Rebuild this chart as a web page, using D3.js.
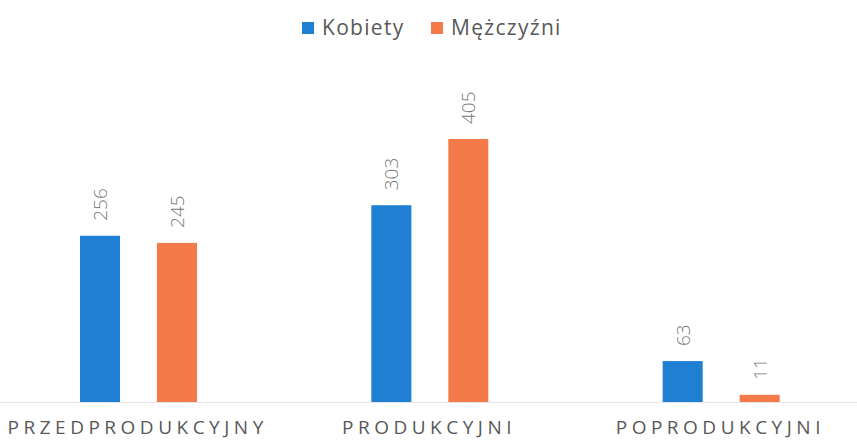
<html>
<head>
<meta charset="utf-8">
<script src="https://d3js.org/d3.v7.min.js"></script>
<style>
body { margin: 0; background: #fff; }
text { font-family: "Open Sans", "Noto Sans", sans-serif; fill: #595959; }
</style>
</head>
<body>
<svg id="chart" width="857" height="444"></svg>
<script>
// dane
const categories = ["PRZEDPRODUKCYJNY", "PRODUKCYJNI", "POPRODUKCYJNI"];
const seriesNames = ["Kobiety", "Mężczyźni"];
const kobiety = [256, 303, 63];
const mezczyzni = [245, 405, 11];
const colors = ["#1f7fd2", "#f57a4a"];

const svg = d3.select("svg#chart");
const baseY = 402;

const xScale = d3.scaleBand().domain(categories).range([-7, 867]);
const inner = d3.scaleBand().domain(seriesNames).range([87, 204])
                .paddingInner(0.48);
const yScale = d3.scaleLinear().domain([0, 405]).range([baseY, 139]);

// linia bazowa
svg.append("line")
   .attr("x1", 0).attr("x2", 857)
   .attr("y1", baseY + 0.5).attr("y2", baseY + 0.5)
   .attr("stroke", "#e6e6e6").attr("stroke-width", 1);

const rows = categories.map((c, i) => ({cat: c, vals: [kobiety[i], mezczyzni[i]]}));

const groups = svg.selectAll("g.grp").data(rows).enter().append("g")
   .attr("class", "grp")
   .attr("transform", d => `translate(${xScale(d.cat)},0)`);

groups.selectAll("rect").data(d => d.vals.map((v, j) => ({name: seriesNames[j], v: v, j: j})))
   .enter().append("rect")
   .attr("x", d => inner(d.name))
   .attr("width", inner.bandwidth())
   .attr("y", d => yScale(d.v))
   .attr("height", d => baseY - yScale(d.v))
   .attr("fill", d => colors[d.j]);

// etykiety wartosci (obrocone)
groups.selectAll("text.val").data(d => d.vals.map((v, j) => ({name: seriesNames[j], v: v})))
   .enter().append("text").attr("class", "val")
   .attr("transform", d => `translate(${inner(d.name) + inner.bandwidth() / 2 + 7},${yScale(d.v) - 15}) rotate(-90)`)
   .attr("text-anchor", "start")
   .style("font-size", "19px")
   .style("font-weight", 300)
   .style("fill", "#7a7a7a")
   .text(d => d.v);

// os x
groups.append("text")
   .attr("x", xScale.bandwidth() / 2 - 1)
   .attr("y", 434)
   .attr("text-anchor", "middle")
   .style("font-size", "19px")
   .style("letter-spacing", "4.5px")
   .text(d => d.cat);

// legenda
const legend = svg.append("g").attr("transform", "translate(302,22)");
const lx = [0, 129];
seriesNames.forEach((n, i) => {
  legend.append("rect").attr("x", lx[i]).attr("y", 0).attr("width", 12).attr("height", 12).attr("fill", colors[i]);
  legend.append("text").attr("x", lx[i] + 20).attr("y", 13).style("font-size", "21px").style("letter-spacing", "1.3px").text(n);
});
</script>
</body>
</html>
